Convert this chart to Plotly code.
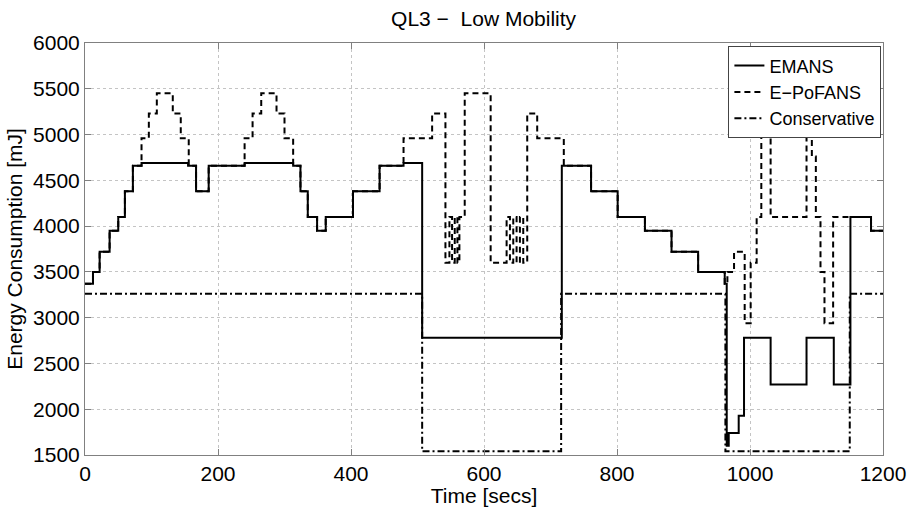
import plotly.graph_objects as go

# Step-wise energy consumption traces (time where each level starts, level in mJ)
emans_t = [0, 12, 22, 37, 50, 60, 72, 85, 155, 167, 186, 240, 313, 324, 335, 349, 362,
           403, 443, 479, 507, 717, 761, 801, 842, 882, 922, 962, 965, 968, 983, 991,
           1031, 1085, 1126, 1151, 1182, 1200]
emans_e = [3370, 3500, 3720, 3950, 4100, 4380, 4660, 4690, 4660, 4380, 4660, 4690, 4660,
           4380, 4100, 3950, 4100, 4380, 4660, 4690, 2780, 4660, 4380, 4100, 3950, 3720,
           3500, 3370, 1600, 1740, 1930, 2780, 2270, 2780, 2270, 4100, 3950, 3950]

# one line per stretch; times and levels are laid out line for line
epofans_t = [0, 12, 22, 37, 50, 60, 72,
             85, 96, 108, 132, 144, 156, 167, 186,
             240, 252, 265, 288, 300, 313, 324, 335, 349, 362, 403, 443,
             479, 522, 542, 548, 552, 556, 560, 563, 571,
             610, 634, 639, 644, 649, 654, 659, 665,
             680, 720, 761, 801, 842, 882, 922, 962,
             966, 976, 992, 1001, 1010, 1017, 1031,
             1085, 1093, 1099, 1106, 1112, 1125, 1182, 1200]
epofans_e = [3370, 3500, 3720, 3950, 4100, 4380, 4660,
             4960, 5230, 5450, 5230, 4960, 4660, 4380, 4660,
             4960, 5230, 5450, 5230, 4960, 4660, 4380, 4100, 3950, 4100, 4380, 4660,
             4960, 5230, 3600, 4100, 3600, 4100, 3600, 4100, 5450,
             3600, 4100, 3600, 4100, 3600, 4100, 3600, 5230,
             4960, 4660, 4380, 4100, 3950, 3720, 3500, 3370,
             3500, 3720, 2940, 3600, 4100, 5450, 4100,
             5450, 4760, 4100, 3500, 2940, 4100, 3950, 3950]

conservative_t = [0, 507, 716, 963, 1150, 1200]
conservative_e = [3260, 1540, 3260, 1540, 3260, 3260]

x_ticks = [0, 200, 400, 600, 800, 1000, 1200]
y_ticks = [1500, 2000, 2500, 3000, 3500, 4000, 4500, 5000, 5500, 6000]

FONT = "Liberation Sans, Arial, Helvetica, sans-serif"

fig = go.Figure()
fig.add_trace(go.Scatter(x=emans_t, y=emans_e, name="EMANS", mode="lines",
                         line=dict(color="black", width=2, shape="hv")))
fig.add_trace(go.Scatter(x=epofans_t, y=epofans_e, name="E\u2212PoFANS", mode="lines",
                         line=dict(color="black", width=2, shape="hv", dash="6px,4px")))
fig.add_trace(go.Scatter(x=conservative_t, y=conservative_e, name="Conservative",
                         mode="lines",
                         line=dict(color="black", width=2, shape="hv",
                                   dash="7px,3px,2px,3px")))

axis_common = dict(
    showline=True, linecolor="#808080", linewidth=1, mirror="ticks",
    ticks="inside", ticklen=6, tickcolor="#808080",
    showgrid=True, gridcolor="#c4c4c4", gridwidth=1, griddash="dot",
    zeroline=False, automargin=False,
    tickfont=dict(family=FONT, size=21, color="black"),
)

fig.update_xaxes(range=[0, 1200], tickvals=x_ticks,
                 title=dict(text="Time [secs]", font=dict(family=FONT, size=21, color="black"),
                            standoff=0),
                 **axis_common)
fig.update_yaxes(range=[1500, 6000], tickvals=y_ticks,
                 title=dict(text="Energy Consumption [mJ]",
                            font=dict(family=FONT, size=21, color="black"), standoff=4),
                 **axis_common)

fig.update_layout(
    width=909, height=507,
    margin=dict(l=85, r=26, t=43, b=52, autoexpand=False),
    paper_bgcolor="white", plot_bgcolor="white",
    title=dict(text="QL3 \u2212\u00a0 Low Mobility", x=0.532, xanchor="center",
               y=0.964, yanchor="middle",
               font=dict(family=FONT, size=21, color="black")),
    legend=dict(x=0.998, y=0.992, xanchor="right", yanchor="top",
                bgcolor="white", bordercolor="#444", borderwidth=1,
                font=dict(family=FONT, size=18, color="black"),
                tracegroupgap=0, itemwidth=30),
    showlegend=True,
)

fig.write_html("out.html")
